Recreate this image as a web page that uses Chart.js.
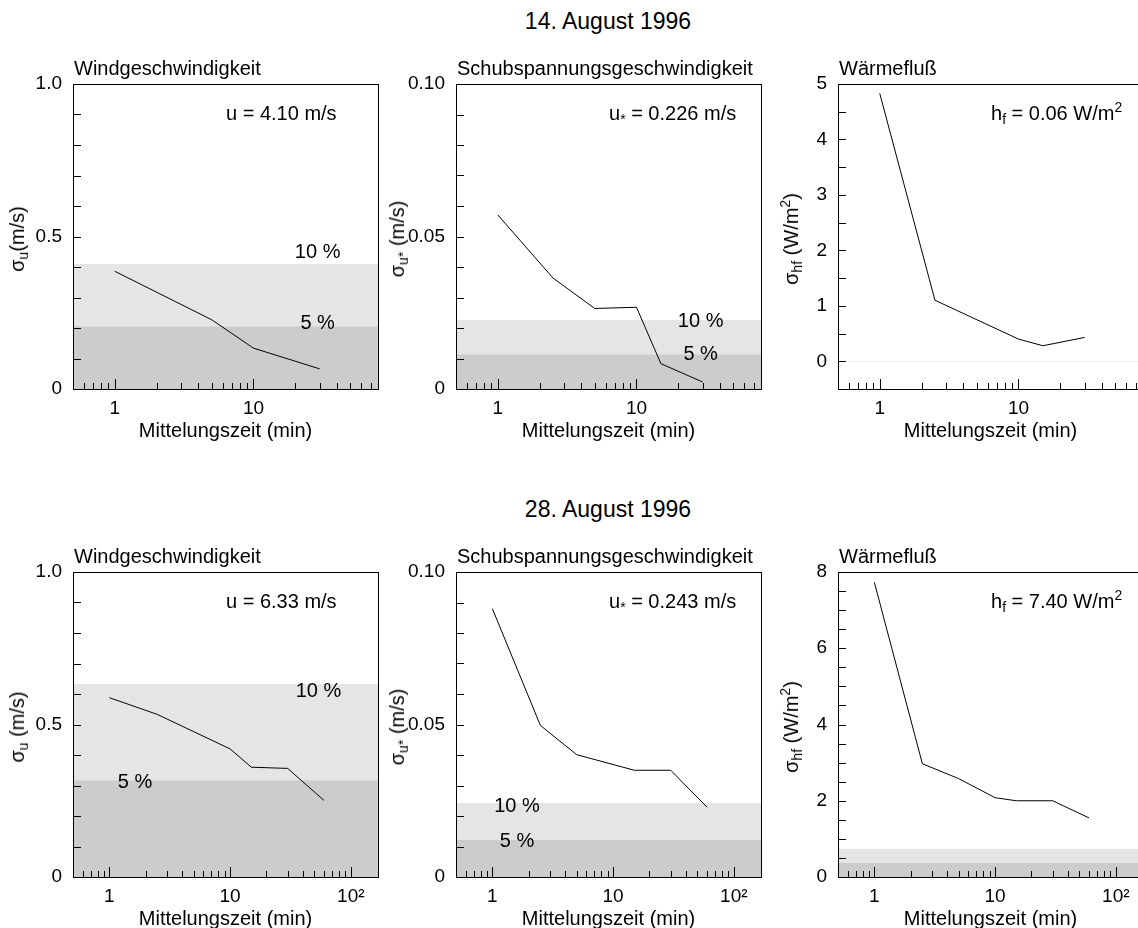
<!DOCTYPE html>
<html>
<head>
<meta charset="utf-8">
<script src="https://cdn.jsdelivr.net/npm/chart.js@4.4.1/dist/chart.umd.min.js"></script>
<style>
  html, body { margin: 0; padding: 0; background: #fff; }
  body {
    width: 1138px; height: 928px; position: relative; overflow: hidden;
    font-family: "Liberation Sans", Arial, Helvetica, sans-serif; color: #000;
  }
  canvas { position: absolute; }
  .txt { position: absolute; white-space: nowrap; font-size: 20px; line-height: 20px; transform: translateY(-50%); }
  .title { font-size: 23px; line-height: 23px; transform: translate(-50%, -50%); }
  .ylab { transform: translate(-50%, -50%) rotate(-90deg); }
  sub { font-size: 14px; line-height: 0; vertical-align: -4px; }
  sup { font-size: 14px; line-height: 0; vertical-align: 8px; }
</style>
</head>
<body>
<script>
// Mittelungszeit (min) and standard deviations, 14. August 1996
const tWind14 = [1, 5, 10, 30];
const sWind14 = [0.386, 0.227, 0.134, 0.066];
const tUstar14 = [1, 2.5, 5, 10, 15, 30];
const sUstar14 = [0.0571, 0.0364, 0.0264, 0.0268, 0.0083, 0.0023];
const tHeat14 = [1, 2.5, 10, 15, 30];
const sHeat14 = [4.83, 1.10, 0.40, 0.28, 0.43];

// 28. August 1996
const tWind28 = [1, 2.5, 10, 15, 30, 60];
const sWind28 = [0.588, 0.533, 0.42, 0.360, 0.356, 0.251];
const tUstar28 = [1, 2.5, 5, 15, 30, 60];
const sUstar28 = [0.0880, 0.0497, 0.0401, 0.0350, 0.0350, 0.0229];
const tHeat28 = [1, 2.5, 5, 10, 15, 30, 60];
const sHeat28 = [7.73, 2.97, 2.58, 2.08, 2.00, 2.00, 1.55];

// 10 % and 5 % bands (of the mean value)
const band10 = [0.41, 0.0226, 0.006, 0.633, 0.0243, 0.74];
const band5 = [0.205, 0.0113, 0.003, 0.3165, 0.01215, 0.37];

const dayTitles = ['14. August 1996', '28. August 1996'];
const panelTitles = ['Windgeschwindigkeit', 'Schubspannungsgeschwindigkeit', 'Wärmefluß'];
const meanLabels = [
    'u = 4.10 m/s', 'u<sub>*</sub> = 0.226 m/s', 'h<sub>f</sub> = 0.06 W/m<sup>2</sup>',
    'u = 6.33 m/s', 'u<sub>*</sub> = 0.243 m/s', 'h<sub>f</sub> = 7.40 W/m<sup>2</sup>',
];
const yTitles = [
    'σ<sub>u</sub>(m/s)', 'σ<sub>u*</sub> (m/s)', 'σ<sub>hf</sub> (W/m<sup>2</sup>)',
    'σ<sub>u</sub> (m/s)', 'σ<sub>u*</sub> (m/s)', 'σ<sub>hf</sub> (W/m<sup>2</sup>)',
];
const xTitle = 'Mittelungszeit (min)';

// tick labels
const xMajorTicks = [1, 10, 100];
const xMajorLabels = ['1', '10', '10²'];
const yMajorWind = [0, 0.5, 1.0];
const yLabelsWind = ['0', '0.5', '1.0'];
const yMajorUstar = [0, 0.05, 0.10];
const yLabelsUstar = ['0', '0.05', '0.10'];
const yMajorHeat14 = [0, 1, 2, 3, 4, 5];
const yLabelsHeat14 = ['0', '1', '2', '3', '4', '5'];
const yMajorHeat28 = [0, 2, 4, 6, 8];
const yLabelsHeat28 = ['0', '2', '4', '6', '8'];

const FONT = '"Liberation Sans", Arial, Helvetica, sans-serif';
Chart.defaults.font.family = FONT;
Chart.defaults.color = '#000';

const PLOT_W = 305, PLOT_H = 305;
const PAD_TOP = 24, Y_AXIS_W = 73, X_AXIS_H = 54;
const colLeft = [73, 456, 838];
const rowTop = [84, 572];
const yTitleOffset = [56, 59, 47];

const panels = [
    { row: 0, col: 0, t: tWind14, s: sWind14, xMax: 79, yMin: 0, yMax: 1, yStep: 0.1, yMajor: yMajorWind, yLabels: yLabelsWind,
      marks: [{ text: '10 %', x: 29, y: 0.446 }, { text: '5 %', x: 29, y: 0.214 }] },
    { row: 0, col: 1, t: tUstar14, s: sUstar14, xMax: 79, yMin: 0, yMax: 0.1, yStep: 0.01, yMajor: yMajorUstar, yLabels: yLabelsUstar,
      marks: [{ text: '10 %', x: 29, y: 0.0220 }, { text: '5 %', x: 29, y: 0.0113 }] },
    { row: 0, col: 2, t: tHeat14, s: sHeat14, xMax: 79, yMin: -0.5, yMax: 5, yStep: 0.5, yMajor: yMajorHeat14, yLabels: yLabelsHeat14,
      marks: [] },
    { row: 1, col: 0, t: tWind28, s: sWind28, xMax: 168, yMin: 0, yMax: 1, yStep: 0.1, yMajor: yMajorWind, yLabels: yLabelsWind,
      marks: [{ text: '10 %', x: 54, y: 0.608 }, { text: '5 %', x: 1.63, y: 0.311 }] },
    { row: 1, col: 1, t: tUstar28, s: sUstar28, xMax: 168, yMin: 0, yMax: 0.1, yStep: 0.01, yMajor: yMajorUstar, yLabels: yLabelsUstar,
      marks: [{ text: '10 %', x: 1.6, y: 0.0232 }, { text: '5 %', x: 1.6, y: 0.0117 }] },
    { row: 1, col: 2, t: tHeat28, s: sHeat28, xMax: 168, yMin: 0, yMax: 8, yStep: 0.5, yMajor: yMajorHeat28, yLabels: yLabelsHeat28,
      marks: [] },
];

const X_MIN = 0.5;

function logTicks(min, max) {
    const out = [];
    for (let e = -1; e <= 3; e++) {
        for (let k = 1; k <= 9; k++) {
            const v = Math.round(k * Math.pow(10, e) * 1000) / 1000;
            if (v >= min && v <= max) out.push(v);
        }
    }
    return out;
}

function linTicks(min, max, step) {
    const n = Math.round((max - min) / step);
    const out = [];
    for (let i = 0; i <= n; i++) out.push(Math.round((min + i * step) * 1e6) / 1e6);
    return out;
}

// inward tick marks, frame and the band labels
const frameTicks = {
    id: 'frameTicks',
    afterDatasetsDraw(chart, args, opts) {
        const { ctx, chartArea: a, scales: { x, y } } = chart;
        ctx.save();
        ctx.strokeStyle = '#000';
        ctx.lineWidth = 1;
        ctx.beginPath();
        x.ticks.forEach((t) => {
            const px = Math.round(x.getPixelForValue(t.value)) + 0.5;
            const len = xMajorTicks.includes(t.value) ? 10 : 6;
            ctx.moveTo(px, a.bottom);
            ctx.lineTo(px, a.bottom - len);
        });
        y.ticks.forEach((t) => {
            const py = Math.round(y.getPixelForValue(t.value)) + 0.5;
            ctx.moveTo(a.left, py);
            ctx.lineTo(a.left + 8, py);
        });
        ctx.stroke();
        ctx.strokeRect(Math.round(a.left) + 0.5, Math.round(a.top) + 0.5,
            Math.round(a.right - a.left), Math.round(a.bottom - a.top));

        ctx.fillStyle = '#000';
        ctx.font = '20px ' + FONT;
        ctx.textAlign = 'center';
        ctx.textBaseline = 'middle';
        (opts.marks || []).forEach((m) => {
            ctx.fillText(m.text, x.getPixelForValue(m.x), y.getPixelForValue(m.y));
        });
        ctx.restore();
    }
};

function addText(html, cls, left, top) {
    const d = document.createElement('div');
    d.className = 'txt ' + cls;
    d.innerHTML = html;
    d.style.left = left + 'px';
    d.style.top = top + 'px';
    document.body.appendChild(d);
}

panels.forEach((p, i) => {
    const W = Y_AXIS_W + PLOT_W + 2;
    const H = PAD_TOP + PLOT_H + X_AXIS_H;
    const plotLeft = colLeft[p.col];
    const plotTop = rowTop[p.row];

    const cv = document.createElement('canvas');
    cv.width = W;
    cv.height = H;
    cv.style.width = W + 'px';
    cv.style.height = H + 'px';
    cv.style.left = (plotLeft - Y_AXIS_W) + 'px';
    cv.style.top = (plotTop - PAD_TOP) + 'px';
    document.body.appendChild(cv);

    const xTickVals = logTicks(X_MIN, p.xMax);
    const yTickVals = linTicks(p.yMin, p.yMax, p.yStep);

    new Chart(cv, {
        type: 'line',
        data: {
            datasets: [
                {
                    data: p.t.map((v, k) => ({ x: v, y: p.s[k] })),
                    borderColor: '#000',
                    borderWidth: 1,
                    pointRadius: 0,
                    tension: 0,
                    fill: false,
                },
                {
                    data: [{ x: X_MIN, y: band5[i] }, { x: p.xMax, y: band5[i] }],
                    borderColor: 'rgba(0,0,0,0)',
                    borderWidth: 0,
                    pointRadius: 0,
                    backgroundColor: '#cccccc',
                    fill: 'origin',
                },
                {
                    data: [{ x: X_MIN, y: band10[i] }, { x: p.xMax, y: band10[i] }],
                    borderColor: 'rgba(0,0,0,0)',
                    borderWidth: 0,
                    pointRadius: 0,
                    backgroundColor: '#e5e5e5',
                    fill: 'origin',
                },
            ],
        },
        options: {
            responsive: false,
            animation: false,
            devicePixelRatio: 1,
            events: [],
            layout: { padding: { top: PAD_TOP, right: 2, bottom: 0, left: 0 } },
            plugins: {
                legend: { display: false },
                tooltip: { enabled: false },
                frameTicks: { marks: p.marks },
            },
            scales: {
                x: {
                    type: 'logarithmic',
                    min: X_MIN,
                    max: p.xMax,
                    afterBuildTicks(scale) {
                        scale.ticks = xTickVals.map((v) => ({ value: v }));
                    },
                    afterFit(scale) { scale.height = X_AXIS_H; },
                    grid: { display: false, drawTicks: false },
                    border: { display: false },
                    ticks: {
                        autoSkip: false,
                        maxRotation: 0,
                        minRotation: 0,
                        padding: 8,
                        color: '#000',
                        font: { size: 19 },
                        callback(val) {
                            const k = xMajorTicks.indexOf(val);
                            return k >= 0 ? xMajorLabels[k] : '';
                        },
                    },
                    title: {
                        display: true,
                        text: xTitle,
                        color: '#000',
                        font: { size: 20 },
                        padding: 0,
                    },
                },
                y: {
                    type: 'linear',
                    min: p.yMin,
                    max: p.yMax,
                    afterBuildTicks(scale) {
                        scale.ticks = yTickVals.map((v) => ({ value: v }));
                    },
                    afterFit(scale) { scale.width = Y_AXIS_W; },
                    grid: { display: false, drawTicks: false },
                    border: { display: false },
                    ticks: {
                        autoSkip: false,
                        padding: 11,
                        color: '#000',
                        font: { size: 19 },
                        callback(val) {
                            const k = p.yMajor.findIndex((m) => Math.abs(m - val) < 1e-9);
                            return k >= 0 ? p.yLabels[k] : '';
                        },
                    },
                },
            },
        },
        plugins: [frameTicks],
    });

    addText(panelTitles[p.col], '', plotLeft + 1, plotTop - 16.5);
    addText(meanLabels[i], '', plotLeft + 153, plotTop + 29);
    addText(yTitles[i], 'ylab', plotLeft - yTitleOffset[p.col], plotTop + PLOT_H / 2 + 2);
});

dayTitles.forEach((t, r) => addText(t, 'title', 608, rowTop[r] - 63));
</script>
</body>
</html>
